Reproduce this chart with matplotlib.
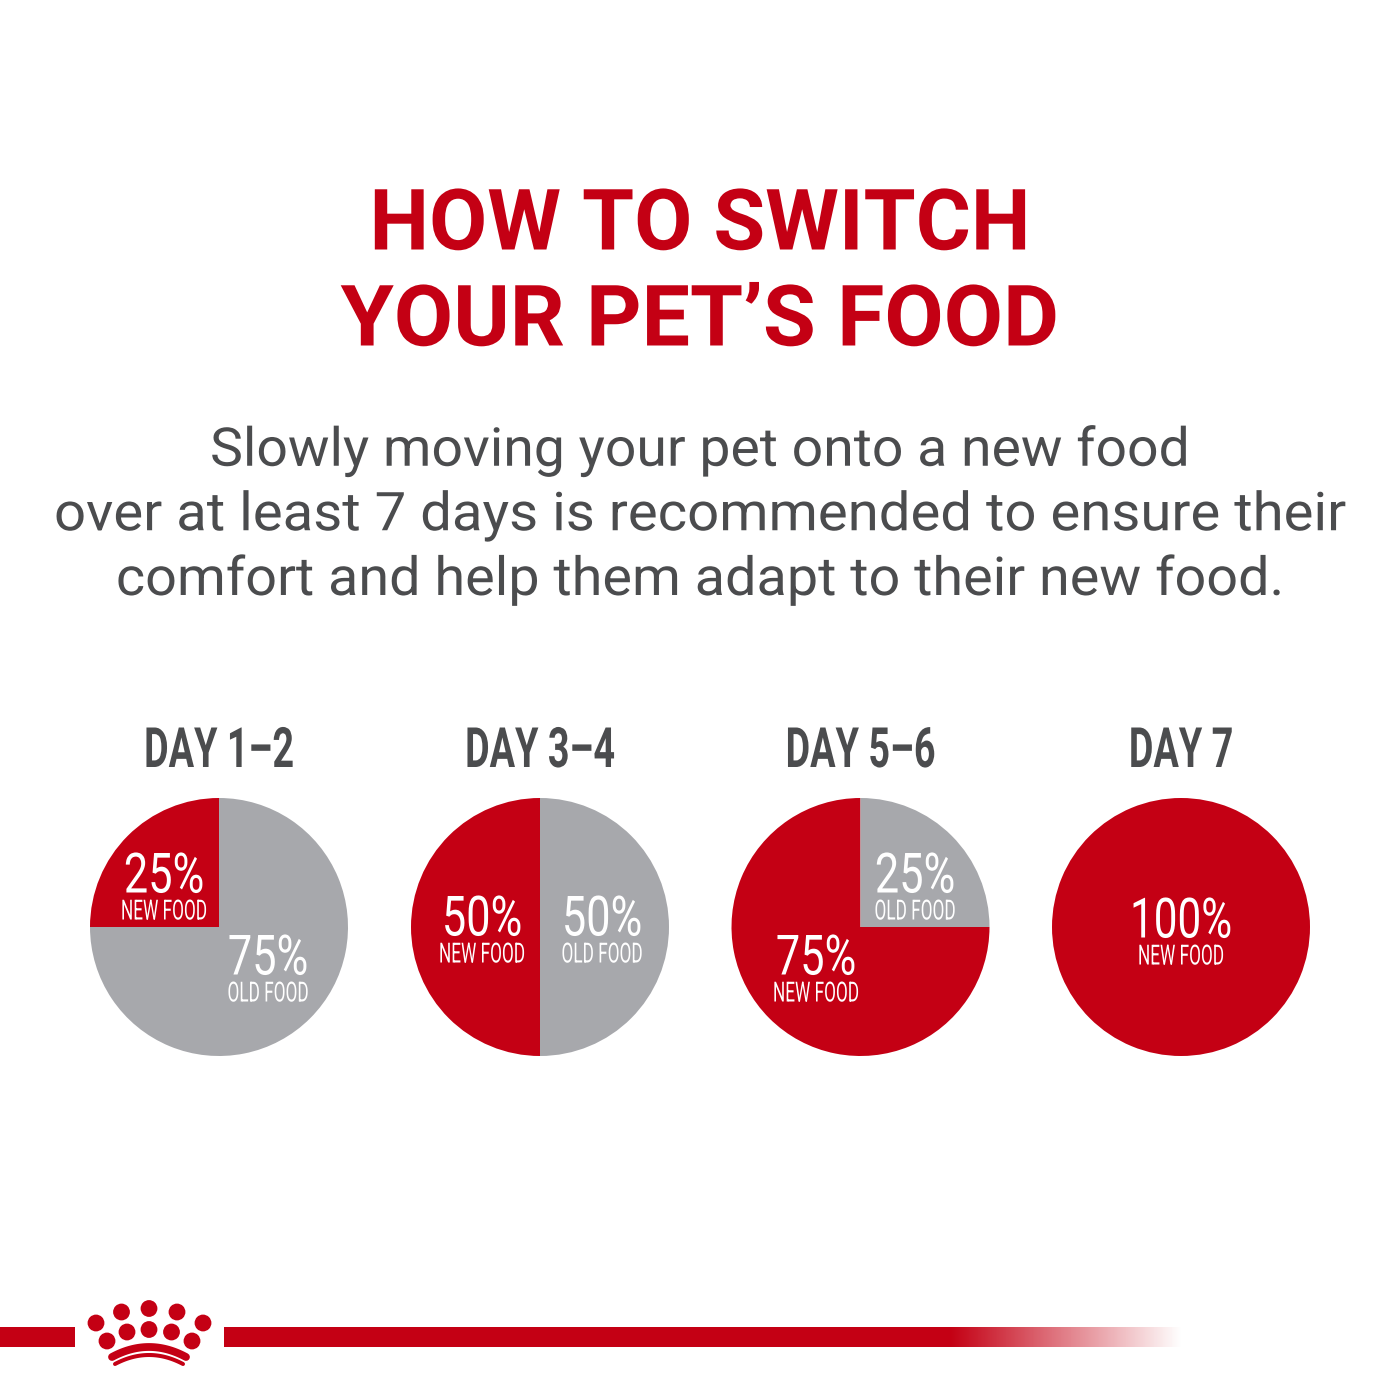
import numpy as np
import matplotlib
matplotlib.use("Agg")
import matplotlib.pyplot as plt
from matplotlib.patches import Circle, Rectangle
from matplotlib.colors import LinearSegmentedColormap
from matplotlib.patheffects import AbstractPathEffect
from matplotlib.transforms import Affine2D

RED = "#C40014"
GREY = "#A7A8AC"
DARK = "#4B4C4E"
FONT = ["Roboto", "DejaVu Sans"]

title_lines = ["HOW TO SWITCH", "YOUR PET\u2019S FOOD"]
body_lines = ["Slowly moving your pet onto a new food",
              "over at least 7 days is recommended to ensure their",
              "comfort and help them adapt to their new food."]
days = ["DAY 1\u20132", "DAY 3\u20134", "DAY 5\u20136", "DAY 7"]
new_food = [25, 50, 75, 100]
old_food = [75, 50, 25, 0]
new_label = "NEW FOOD"
old_label = "OLD FOOD"

centers_x = [219, 540, 860.5, 1181]
center_y = 927
radius = 129
new_pos = [(164, 877), (482, 920), (816, 959), (1181, 922)]
old_pos = [(268, 959), (602, 920), (915, 877), None]


class Squeeze(AbstractPathEffect):
    """Scale a text horizontally about its centre, as the condensed face does."""

    def __init__(self, sx, cx):
        super().__init__()
        self.sx, self.cx = sx, cx

    def draw_path(self, renderer, gc, tpath, affine, rgbFace=None):
        t = affine + Affine2D().translate(-self.cx, 0).scale(self.sx, 1).translate(self.cx, 0)
        renderer.draw_path(gc, tpath, t, rgbFace)


def label(a, x, y, s, size, color, sx, weight="normal"):
    a.text(x, y, s, ha="center", va="center", family=FONT, fontweight=weight,
           fontsize=size, color=color, path_effects=[Squeeze(sx, x)])


fig = plt.figure(figsize=(14, 14), dpi=100, facecolor="white")
ax = fig.add_axes([0, 0, 1, 1])
ax.set_xlim(0, 1400)
ax.set_ylim(1400, 0)
ax.axis("off")

for line, y, sx in zip(title_lines, [226, 322], [0.995, 1.015]):
    label(ax, 700, y, line, 61, RED, sx, "bold")
for line, y, sx in zip(body_lines, [451, 516, 580], [1.035, 1.052, 1.043]):
    label(ax, 700, y, line, 38.5, DARK, sx)

for i, (cx, day) in enumerate(zip(centers_x, days)):
    label(ax, cx, 752, day, 40, DARK, 0.68, "bold")
    pax = fig.add_axes([(cx - radius) / 1400, (1400 - center_y - radius) / 1400,
                        2 * radius / 1400, 2 * radius / 1400])
    vals = [new_food[i], old_food[i]]
    pax.pie(vals, colors=[RED, GREY], startangle=90, counterclock=True, radius=1)
    pax.set_xlim(-1, 1)
    pax.set_ylim(-1, 1)
    pax.set_zorder(1)
    pax.axis("off")

tax = fig.add_axes([0, 0, 1, 1], facecolor="none", zorder=2)
tax.set_xlim(0, 1400)
tax.set_ylim(1400, 0)
tax.axis("off")
for i in range(4):
    for vals, pos, name in ((new_food, new_pos, new_label), (old_food, old_pos, old_label)):
        if vals[i]:
            x, y = pos[i]
            label(tax, x, y, f"{vals[i]}%", 40, "white", 0.78 if vals[i] < 100 else 0.76)
            label(tax, x, y + 35, name, 20, "white", 0.62)

# footer band with gradient fade and crown logo
ax.add_patch(Rectangle((0, 1327), 75, 20, color=RED, lw=0))
ax.add_patch(Rectangle((224, 1327), 726, 20, color=RED, lw=0))
cmap = LinearSegmentedColormap.from_list("fade", [RED, "#FFFFFF"])
ax.imshow(np.linspace(0, 1, 232)[None, :], extent=(950, 1182, 1347, 1327),
          cmap=cmap, aspect="auto", zorder=1, interpolation="nearest")
ax.set_xlim(0, 1400)
ax.set_ylim(1400, 0)
for x, y in [(96, 1323), (121.5, 1312), (149, 1308.5), (177, 1312), (203, 1323),
             (107, 1341), (127, 1332), (149, 1329.5), (171.5, 1332), (192, 1341)]:
    ax.add_patch(Circle((x, y), 8.4, color=RED, lw=0))
t = np.linspace(-1, 1, 60)
ax.plot(149 + 37 * t, 1347 + 10 * t**2, color=RED, lw=5.6, solid_capstyle="round")
ax.plot(149 + 34 * t, 1355 + 9 * t**2, color=RED, lw=2.9, solid_capstyle="round")

fig.savefig("out.png", dpi=100, facecolor="white")
